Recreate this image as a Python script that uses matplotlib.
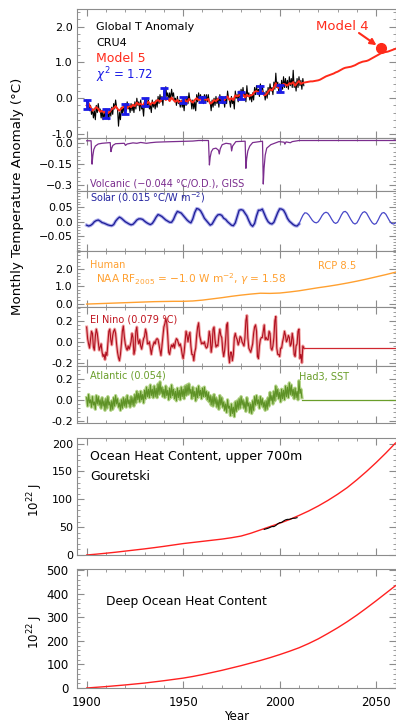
import numpy as np
import matplotlib.pyplot as plt
from matplotlib.ticker import AutoMinorLocator, MultipleLocator, FixedLocator, FormatStrFormatter

plt.rcParams['font.family'] = ['DejaVu Sans']
plt.rcParams['axes.unicode_minus'] = True

##### data #####
# CRU4 global temperature anomaly, two samples per year from 1900
cru4 = [
    -0.05, -0.25, -0.10, -0.35, -0.20, -0.45, -0.30, -0.55, -0.35, -0.60,
    -0.20, -0.40, -0.15, -0.35, -0.30, -0.55, -0.35, -0.60, -0.40, -0.55,
    -0.30, -0.55, -0.35, -0.60, -0.30, -0.50, -0.25, -0.45, -0.15, -0.30,
    -0.05, -0.25, -0.30, -0.78, -0.40, -0.60, -0.25, -0.45, -0.20, -0.40,
    -0.15, -0.35, -0.10, -0.30, -0.20, -0.40, -0.15, -0.35, -0.20, -0.40,
    -0.10, -0.30, 0.00, -0.20, -0.10, -0.35, -0.05, -0.30, -0.25, -0.50,
    -0.05, -0.25, 0.00, -0.20, -0.05, -0.30, -0.20, -0.40, -0.05, -0.25,
    -0.10, -0.30, -0.05, -0.25, 0.05, -0.15, 0.10, -0.10, 0.05, -0.20,
    0.20, 0.00, 0.32, 0.05, 0.15, -0.05, 0.15, -0.05, 0.25, 0.05,
    0.15, -0.10, 0.00, -0.20, 0.05, -0.15, -0.05, -0.25, -0.05, -0.25,
    -0.10, -0.35, 0.00, -0.20, 0.05, -0.15, 0.15, -0.05, -0.05, -0.30,
    -0.05, -0.30, -0.10, -0.35, 0.10, -0.10, 0.15, -0.05, 0.10, -0.10,
    0.05, -0.15, 0.10, -0.10, 0.10, -0.10, 0.10, -0.10, -0.10, -0.35,
    -0.05, -0.25, 0.00, -0.20, 0.05, -0.15, 0.00, -0.25, 0.10, -0.10,
    0.05, -0.15, -0.05, -0.25, 0.05, -0.15, 0.20, 0.00, -0.05, -0.25,
    0.05, -0.15, -0.05, -0.30, 0.20, 0.00, 0.10, -0.10, 0.20, 0.00,
    0.25, 0.05, 0.30, 0.05, 0.15, -0.10, 0.35, 0.05, 0.15, -0.05,
    0.10, -0.10, 0.15, -0.05, 0.30, 0.10, 0.35, 0.15, 0.25, 0.05,
    0.40, 0.20, 0.35, 0.15, 0.15, -0.05, 0.20, 0.00, 0.30, 0.10,
    0.40, 0.20, 0.30, 0.10, 0.45, 0.25, 0.70, 0.30, 0.45, 0.20,
    0.40, 0.15, 0.50, 0.25, 0.60, 0.30, 0.55, 0.30, 0.50, 0.25,
    0.60, 0.35, 0.55, 0.30, 0.78, 0.30, 0.45, 0.20, 0.55, 0.30,
    0.60, 0.35, 0.50, 0.25, 0.55, 0.35,
]

# Model 5 fit, yearly, 1900-2012 then projection 2013-2060
model5_hist = [
    -0.20, -0.15, -0.25, -0.35, -0.30, -0.25, -0.30, -0.38, -0.35, -0.40,
    -0.35, -0.42, -0.38, -0.30, -0.28, -0.22, -0.30, -0.35, -0.28, -0.25,
    -0.22, -0.28, -0.20, -0.25, -0.18, -0.22, -0.12, -0.18, -0.15, -0.22,
    -0.12, -0.15, -0.10, -0.18, -0.12, -0.15, -0.08, -0.05, -0.10, -0.02,
    0.02, -0.05, 0.00, -0.08, 0.02, -0.05, -0.10, -0.05, -0.12, -0.08,
    -0.10, -0.05, -0.12, -0.02, -0.08, -0.12, -0.05, 0.00, -0.05, -0.02,
    -0.06, 0.00, -0.05, -0.02, -0.15, -0.12, -0.05, -0.08, -0.02, 0.02,
    -0.03, -0.08, 0.00, 0.05, -0.05, 0.00, -0.05, 0.08, 0.05, 0.08,
    0.10, 0.12, 0.02, 0.10, 0.05, 0.08, 0.10, 0.18, 0.20, 0.15,
    0.22, 0.18, 0.08, 0.10, 0.18, 0.25, 0.22, 0.30, 0.42, 0.30,
    0.28, 0.35, 0.40, 0.38, 0.35, 0.42, 0.40, 0.45, 0.35, 0.42,
    0.48, 0.40, 0.43,
]
model5_proj = [
    0.44, 0.45, 0.46, 0.47, 0.47, 0.48, 0.49, 0.50,
    0.52, 0.55, 0.58, 0.61, 0.63, 0.65, 0.67, 0.69, 0.72, 0.74,
    0.77, 0.80, 0.83, 0.85, 0.86, 0.87, 0.88, 0.90, 0.92, 0.95,
    0.98, 1.00, 1.02, 1.03, 1.04, 1.06, 1.09, 1.12, 1.15, 1.18,
    1.21, 1.24, 1.27, 1.28, 1.29, 1.30, 1.32, 1.34, 1.36, 1.38,
]
model4_year, model4_value = 2052.5, 1.39

# decadal means of CRU4 with uncertainty
dec_years = [1900, 1910, 1920, 1930, 1940, 1950, 1960, 1970, 1980, 1990, 2000]
dec_mean = [-0.17, -0.43, -0.29, -0.10, 0.15, -0.04, -0.03, -0.03, 0.08, 0.25, 0.28]
dec_err = [0.13, 0.12, 0.14, 0.12, 0.13, 0.08, 0.07, 0.07, 0.09, 0.10, 0.10]

# volcanic (GISS optical depth scaled)
volc_years = [
    1900, 1902.3, 1902.8, 1903.2, 1903.7, 1904.5, 1906, 1908, 1912.2, 1912.6,
    1913.0, 1913.6, 1915, 1919.5, 1920.1, 1921, 1924, 1926, 1928, 1931,
    1933, 1936, 1940, 1945, 1950, 1955, 1958, 1963.1, 1963.6, 1964.0,
    1964.6, 1965.5, 1967.0, 1968.3, 1968.7, 1969.2, 1970.2, 1972.2, 1974.7, 1975.1,
    1975.6, 1977.3, 1982.1, 1982.5, 1982.9, 1983.5, 1984.5, 1986, 1991.1, 1991.5,
    1991.9, 1992.5, 1993.3, 1995.4, 1999.6, 2002.3, 2002.7, 2003.3, 2005.5, 2006.5,
    2010, 2060,
]
volc_vals = [
    0.018, 0.018, -0.150, -0.090, -0.045, -0.020, -0.005, 0.000, 0.005, -0.060,
    -0.035, -0.015, -0.003, 0.000, -0.015, -0.005, 0.003, 0.000, 0.006, 0.000,
    0.004, 0.008, 0.010, 0.012, 0.014, 0.016, 0.020, 0.020, -0.156, -0.100,
    -0.060, -0.040, -0.035, -0.050, -0.077, -0.040, -0.010, 0.000, -0.005, -0.055,
    -0.020, 0.012, 0.015, -0.180, -0.110, -0.055, -0.020, 0.005, 0.015, -0.293,
    -0.180, -0.085, -0.035, -0.010, 0.012, 0.008, -0.006, 0.010, 0.004, 0.012,
    0.020, 0.020,
]

# solar, yearly: 1900-2010 observed, 2011-2060 projected cycles
solar_hist = [
    -0.012, -0.015, -0.013, -0.008, 0.000, 0.004, 0.006, 0.002, -0.003, -0.005,
    -0.008, -0.011, -0.013, -0.014, -0.010, 0.002, 0.010, 0.016, 0.012, 0.006,
    0.000, -0.004, -0.008, -0.011, -0.009, -0.002, 0.006, 0.010, 0.010, 0.008,
    0.002, -0.003, -0.007, -0.010, -0.006, 0.004, 0.016, 0.025, 0.022, 0.018,
    0.012, 0.006, 0.002, -0.002, -0.002, 0.008, 0.024, 0.036, 0.033, 0.030,
    0.022, 0.014, 0.006, 0.000, -0.004, 0.010, 0.032, 0.046, 0.044, 0.038,
    0.026, 0.012, 0.004, -0.004, -0.012, -0.008, 0.004, 0.016, 0.024, 0.025,
    0.022, 0.012, 0.008, 0.000, -0.006, -0.012, -0.014, -0.004, 0.018, 0.040,
    0.042, 0.040, 0.030, 0.020, 0.004, -0.010, -0.016, -0.006, 0.020, 0.040,
    0.040, 0.044, 0.028, 0.012, 0.000, -0.006, -0.008, -0.002, 0.015, 0.032,
    0.045, 0.044, 0.040, 0.028, 0.012, 0.002, -0.004, -0.010, -0.014, -0.015,
    -0.008,
]
solar_proj = [
    0.008, 0.022, 0.031, 0.030, 0.024, 0.014, 0.004, -0.002, -0.004, 0.000,
    0.010, 0.022, 0.030, 0.033, 0.030, 0.020, 0.008, -0.002, -0.006, -0.002,
    0.010, 0.024, 0.034, 0.036, 0.030, 0.018, 0.006, -0.004, -0.008, -0.004,
    0.008, 0.022, 0.032, 0.035, 0.030, 0.018, 0.006, -0.004, -0.009, -0.006,
    0.006, 0.020, 0.030, 0.032, 0.026, 0.014, 0.002, -0.006, -0.008, -0.004,
]

# anthropogenic contribution, every 5 years 1900-2060
human = [
    -0.03, -0.01, 0.01, 0.03, 0.05, 0.07, 0.09, 0.11, 0.12, 0.13,
    0.13, 0.15, 0.20, 0.27, 0.34, 0.42, 0.49, 0.55, 0.60, 0.59,
    0.61, 0.67, 0.74, 0.83, 0.92, 1.00, 1.09, 1.19, 1.30, 1.42,
    1.55, 1.68, 1.82,
]

# El Nino contribution, two samples per year 1900-2012
nino = [
    0.14, 0.03, -0.02, -0.06, 0.02, 0.10, 0.08, -0.05, -0.08, 0.05,
    0.12, 0.08, 0.00, -0.08, -0.05, -0.02, -0.10, -0.14, -0.12, -0.17,
    -0.10, -0.13, -0.02, 0.10, 0.12, 0.02, -0.03, 0.06, 0.10, 0.12,
    0.08, -0.02, -0.10, -0.15, -0.18, -0.12, -0.02, 0.10, 0.15, 0.05,
    -0.02, -0.06, -0.08, -0.04, -0.07, -0.04, 0.00, 0.08, 0.04, -0.12,
    -0.08, 0.10, 0.14, 0.02, -0.02, 0.02, -0.04, -0.07, -0.02, 0.03,
    0.05, 0.12, 0.08, -0.02, -0.02, 0.00, -0.06, -0.12, -0.06, -0.03,
    0.00, -0.02, 0.02, 0.03, 0.02, -0.03, -0.08, -0.13, -0.04, 0.06,
    0.14, 0.17, 0.22, 0.18, 0.06, -0.10, -0.12, -0.06, -0.03, -0.05,
    -0.02, -0.06, 0.00, 0.03, 0.02, -0.01, -0.04, -0.02, -0.06, -0.12,
    -0.16, -0.10, 0.00, 0.10, 0.06, 0.00, 0.06, 0.09, -0.04, -0.12,
    -0.12, -0.18, -0.10, -0.06, 0.06, 0.14, 0.18, 0.06, 0.02, -0.02,
    -0.01, -0.02, 0.00, -0.04, -0.06, -0.05, 0.00, 0.10, 0.05, -0.10,
    -0.04, 0.12, 0.14, 0.02, -0.05, -0.03, -0.04, 0.06, 0.12, 0.06,
    0.04, -0.08, -0.14, -0.08, 0.02, 0.16, 0.18, -0.12, -0.20, -0.10,
    -0.10, -0.18, -0.12, 0.04, 0.08, 0.04, 0.02, -0.03, 0.00, 0.05,
    0.04, 0.00, -0.02, -0.04, 0.04, 0.20, 0.25, 0.04, -0.06, -0.08,
    -0.10, -0.06, -0.02, 0.08, 0.14, 0.16, 0.10, -0.14, -0.16, -0.04,
    0.02, 0.04, 0.04, 0.10, 0.16, 0.02, 0.04, 0.02, 0.02, 0.10,
    0.08, -0.06, -0.08, -0.04, 0.04, 0.20, 0.24, -0.06, -0.12, -0.12,
    -0.14, -0.06, -0.06, 0.00, 0.04, 0.10, 0.06, 0.00, 0.02, 0.06,
    0.04, -0.04, -0.02, 0.08, 0.02, -0.12, -0.14, -0.04, -0.02, 0.10,
    0.12, -0.16, -0.12, -0.20, -0.04, -0.06,
]
nino_after = -0.06

# Atlantic contribution, two samples per year 1900-2011
atlantic = [
    0.02, -0.06, 0.05, -0.03, 0.00, -0.07, 0.03, -0.05, -0.02, -0.09,
    0.04, -0.04, 0.03, -0.05, 0.00, -0.08, 0.02, -0.06, -0.01, -0.10,
    0.01, -0.08, 0.03, -0.05, -0.02, -0.10, -0.01, -0.09, 0.02, -0.06,
    0.04, -0.04, 0.01, -0.07, -0.03, -0.10, 0.00, -0.08, 0.02, -0.06,
    0.01, -0.07, 0.04, -0.04, 0.00, -0.07, 0.03, -0.05, 0.02, -0.06,
    0.05, -0.03, 0.08, 0.00, 0.06, -0.02, 0.08, 0.00, 0.05, -0.03,
    0.09, 0.01, 0.12, 0.03, 0.10, 0.02, 0.14, 0.04, 0.10, 0.02,
    0.13, 0.03, 0.11, 0.02, 0.15, 0.05, 0.17, 0.06, 0.12, 0.03,
    0.10, 0.02, 0.13, 0.04, 0.09, 0.00, 0.11, 0.02, 0.14, 0.04,
    0.10, 0.01, 0.08, -0.01, 0.11, 0.02, 0.09, 0.00, 0.12, 0.03,
    0.10, 0.01, 0.13, 0.04, 0.14, 0.05, 0.15, 0.06, 0.10, 0.01,
    0.12, 0.03, 0.08, -0.01, 0.11, 0.02, 0.13, 0.04, 0.09, 0.01,
    0.11, 0.03, 0.12, 0.03, 0.08, 0.00, 0.07, -0.02, 0.04, -0.05,
    0.03, -0.06, 0.05, -0.04, 0.02, -0.07, 0.00, -0.09, 0.04, -0.05,
    0.02, -0.07, -0.02, -0.10, -0.04, -0.12, 0.00, -0.08, -0.06, -0.15,
    -0.04, -0.13, -0.07, -0.16, -0.02, -0.11, -0.01, -0.09, 0.01, -0.08,
    0.03, -0.05, 0.00, -0.08, -0.02, -0.11, 0.02, -0.06, -0.03, -0.12,
    -0.04, -0.13, -0.01, -0.10, 0.03, -0.05, 0.04, -0.04, 0.00, -0.08,
    0.03, -0.05, 0.01, -0.07, -0.02, -0.10, -0.01, -0.09, 0.02, -0.06,
    0.07, -0.01, 0.04, -0.04, 0.08, -0.01, 0.13, 0.03, 0.10, 0.01,
    0.07, -0.02, 0.10, 0.01, 0.09, 0.00, 0.13, 0.03, 0.12, 0.02,
    0.16, 0.05, 0.14, 0.04, 0.10, 0.01, 0.11, 0.02, 0.08, 0.00,
    0.18, 0.06, 0.10, 0.02,
]
atlantic_after = 0.0

# ocean heat content, upper 700 m (10^22 J), every 5 years 1900-2060
ohc_upper = [
    0.0, 1.5, 3.2, 5.0, 7.0, 9.0, 11.0, 13.2, 15.5, 18.0,
    20.5, 22.5, 24.5, 26.5, 28.5, 31.0, 34.0, 39.0, 45.0, 51.0,
    57.0, 63.5, 71.0, 79.0, 88.0, 98.0, 109.0, 121.0, 135.0, 150.0,
    166.0, 183.0, 201.0,
]
# Gouretski observations, yearly 1992-2009
gouretski_years = list(range(1992, 2010))
gouretski = [46, 47, 48, 49.5, 51, 51, 53, 56, 58, 58.5, 61, 63, 64, 64, 65, 66, 66, 67]

# deep ocean heat content (10^22 J), every 5 years 1900-2060
ohc_deep = [
    0, 3, 6, 9.5, 13, 17, 21, 26, 31, 36.5,
    42, 49, 57, 66, 75, 85, 95, 106, 117, 129,
    142, 156, 171, 189, 209, 232, 256, 282, 310, 340,
    371, 403, 435,
]

##### figure #####
W, H = 396, 722
GRAY = '#8c8c8c'
fig = plt.figure(figsize=(W / 100, H / 100), dpi=100)


def panel(top, bottom, ylim, yticks, fmt):
    ax = fig.add_axes([77 / W, 1 - bottom / H, 318.5 / W, (bottom - top) / H])
    ax.set_xlim(1895, 2060)
    ax.set_ylim(*ylim)
    ax.xaxis.set_major_locator(MultipleLocator(50))
    ax.xaxis.set_minor_locator(MultipleLocator(10))
    ax.yaxis.set_major_locator(FixedLocator(yticks))
    ax.yaxis.set_major_formatter(FormatStrFormatter(fmt))
    ax.yaxis.set_minor_locator(AutoMinorLocator(5))
    ax.tick_params(which='both', direction='in', top=True, right=True,
                   color=GRAY, labelsize=8, pad=3, labelbottom=False)
    ax.tick_params(which='major', length=5, width=0.8)
    ax.tick_params(which='minor', length=2.5, width=0.6)
    for s in ax.spines.values():
        s.set_color(GRAY)
        s.set_linewidth(0.8)
    return ax


def label(x, y, s, **kw):
    # x, y in pixels from the top-left corner
    fig.text(x / W, 1 - y / H, s, va='center', **kw)


def fixed_labels(ax, names):
    ax.yaxis.set_major_formatter(plt.FuncFormatter(
        lambda v, p: names.get(round(v, 2), '')))


yr_half = lambda v, start=1900: start + 0.5 * np.arange(len(v))
yr_one = lambda v, start=1900: start + np.arange(len(v))
yr_five = lambda v, start=1900: start + 5 * np.arange(len(v))

# global temperature
ax1 = panel(9, 138, (-1.11, 2.49), [-1, 0, 1, 2], '%.1f')
ax1.plot(yr_half(cru4), cru4, color='black', lw=0.8, zorder=2)
m5_years = np.concatenate([yr_one(model5_hist), yr_one(model5_proj, 2013)])
ax1.plot(m5_years, model5_hist + model5_proj, color='#ff2a1a', lw=1.4, zorder=3)
ax1.errorbar(dec_years, dec_mean, yerr=dec_err, fmt='none', ecolor='#1a1ae6',
             elinewidth=2, capsize=3, capthick=2, zorder=4)
ax1.plot([model4_year], [model4_value], 'o', color='#ff2a1a', ms=7, zorder=5)
ax1.annotate('', xy=(model4_year, model4_value), xytext=(359, H - 33),
             textcoords='figure pixels',
             arrowprops=dict(arrowstyle='-|>', color='#ff2a1a', lw=1.5,
                             mutation_scale=9, shrinkA=0, shrinkB=4))
label(96, 27, 'Global T Anomaly', fontsize=8)
label(96, 43, 'CRU4', fontsize=8)
label(96, 59, 'Model 5', fontsize=9, color='#ff2a1a')
label(96, 75, r'$\chi^2$ = 1.72', fontsize=8.5, color='#1a1ae6')
label(342, 26, 'Model 4', fontsize=9.5, color='#ff2a1a', ha='center')

# volcanic
ax2 = panel(138, 191, (-0.343, 0.038), [-0.3, -0.15, 0.0], '%g')
fixed_labels(ax2, {0.0: '0.0', -0.15: '\u22120.15', -0.3: '\u22120.3'})
ax2.plot(volc_years, volc_vals, color='#7b2d8e', lw=0.9)
label(90, 183, 'Volcanic (\u22120.044 \u00b0C/O.D.), GISS', fontsize=7, color='#7b2d8e')

# solar
ax3 = panel(191, 251, (-0.102, 0.107), [-0.05, 0.0, 0.05], '%g')
fixed_labels(ax3, {0.0: '0.0', 0.05: '0.05', -0.05: '\u22120.05'})
s_years = yr_one(solar_hist)
ax3.plot(s_years, solar_hist, color='#a9a9ea', lw=2.4)
ax3.plot(s_years, solar_hist, color='#1c1c96', lw=0.9)
ax3.plot(np.concatenate([[2010], yr_one(solar_proj, 2011)]),
         [solar_hist[-1]] + solar_proj, color='#4848c8', lw=0.9)
label(90, 198, 'Solar (0.015 \u00b0C/W m$^{-2}$)', fontsize=7, color='#2424a0')

# human
ax4 = panel(251, 307, (-0.2, 3.05), [0, 1, 2], '%.1f')
ax4.plot(yr_five(human), human, color='#ffa030', lw=1.0)
label(90, 265.5, 'Human', fontsize=7, color='#ffa030')
label(96, 279, 'NAA RF$_{2005}$ = \u22121.0 W m$^{-2}$, $\\gamma$ = 1.58',
      fontsize=7.6, color='#ffa030')
label(318, 266, 'RCP 8.5', fontsize=7.2, color='#ffa030')

# El Nino
ax5 = panel(307, 366, (-0.23, 0.33), [-0.2, 0.0, 0.2], '%.1f')
n_years = yr_half(nino)
ax5.plot(n_years, nino, color='#f2a5a5', lw=2.2)
ax5.plot(n_years, nino, color='#b01020', lw=0.8)
ax5.plot([n_years[-1], 2060], [nino_after, nino_after], color='#d02830', lw=0.9)
label(90, 319.5, 'El Nino (0.079 \u00b0C)', fontsize=7, color='#c0141e')

# Atlantic
ax6 = panel(366, 423, (-0.22, 0.32), [-0.2, 0.0, 0.2], '%.1f')
a_years = yr_half(atlantic)
ax6.plot(a_years, atlantic, color='#b5d58a', lw=2.4)
ax6.plot(a_years, atlantic, color='#5e9226', lw=0.8)
ax6.plot([a_years[-1], 2060], [atlantic_after, atlantic_after], color='#6a9e2a', lw=0.9)
label(90, 376, 'Atlantic (0.054)', fontsize=7, color='#6a9e2a')
label(299, 377.5, 'Had3, SST', fontsize=7, color='#6a9e2a')

# upper ocean heat content
ax7 = panel(438, 555, (0, 210), [0, 50, 100, 150, 200], '%d')
ax7.plot(yr_five(ohc_upper), ohc_upper, color='#ff2020', lw=1.0)
ax7.plot(gouretski_years, gouretski, color='black', lw=0.8)
label(90, 457, 'Ocean Heat Content, upper 700m', fontsize=9)
label(90, 476, 'Gouretski', fontsize=9)

# deep ocean heat content
ax8 = panel(569, 688, (0, 506), [0, 100, 200, 300, 400, 500], '%d')
ax8.plot(yr_five(ohc_deep), ohc_deep, color='#ff2020', lw=1.0)
ax8.tick_params(labelbottom=True, labelsize=8.5, pad=6)
label(106, 602, 'Deep Ocean Heat Content', fontsize=8.8)

# axis titles
fig.text(18 / W, 1 - 196 / H, 'Monthly Temperature Anomaly (\u00b0C)', rotation=90,
         ha='center', va='center', fontsize=9.6)
fig.text(35 / W, 1 - 500 / H, r'$10^{22}$ J', rotation=90, ha='center', va='center', fontsize=8.5)
fig.text(35 / W, 1 - 632 / H, r'$10^{22}$ J', rotation=90, ha='center', va='center', fontsize=8.5)
fig.text(236.5 / W, 1 - 716 / H, 'Year', ha='center', va='center', fontsize=8.5)

fig.savefig('out.png', dpi=100)
